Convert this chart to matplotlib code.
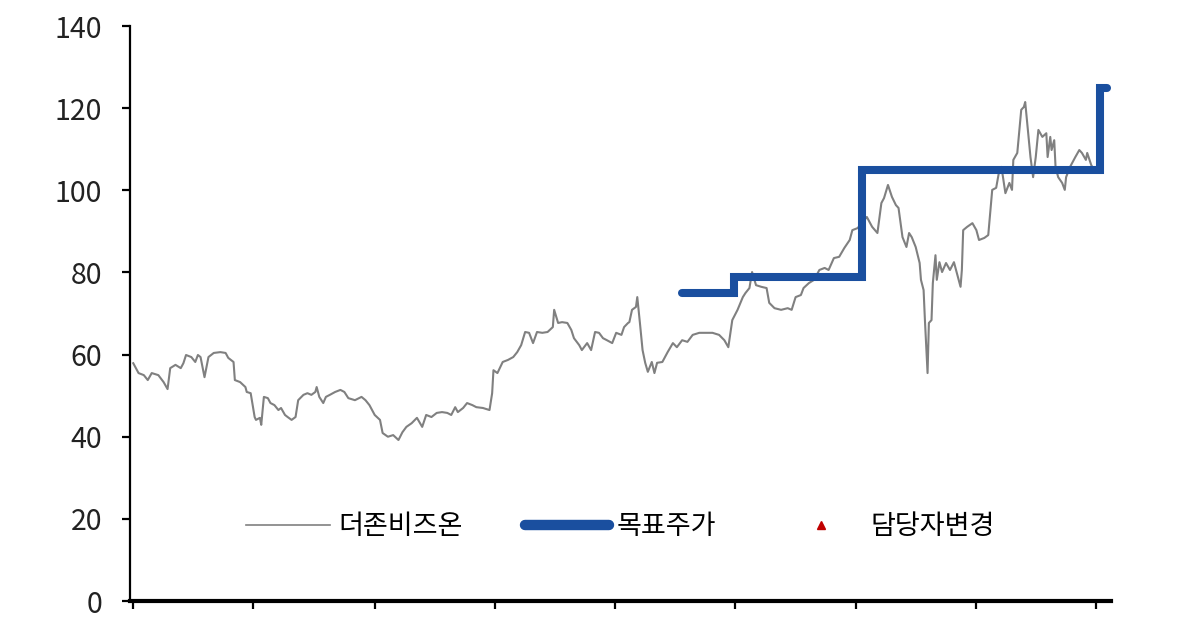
import matplotlib.pyplot as plt
from matplotlib.lines import Line2D

plt.rcParams['font.family'] = ['Noto Sans CJK KR', 'DejaVu Sans']

# 더존비즈온 주가 (days since start, 천원)
priceDays = [
    0, 4, 8, 11, 14, 19, 23, 26, 28, 32, 36, 38, 40, 44, 47, 49, 51, 54, 57, 61,
    66, 70, 72, 76, 77, 81, 85, 86, 89, 92, 93, 96, 97, 99, 102, 104, 107, 110, 112, 115,
    117, 120, 123, 125, 129, 132, 135, 138, 139, 141, 144, 146, 149, 153, 157, 160, 163, 168, 173, 176,
    179, 183, 187, 189, 193, 197, 201, 204, 207, 211, 215, 219, 222, 226, 230, 234, 238, 241, 244, 246,
    250, 253, 257, 260, 265, 270, 272, 273, 276, 280, 284, 288, 291, 294, 297, 300, 303, 306, 310, 314,
    318, 319, 322, 325, 329, 332, 334, 338, 340, 344, 347, 350, 353, 356, 359, 363, 366, 370, 372, 375,
    376, 378, 381, 382, 384, 386, 388, 390, 393, 395, 397, 401, 405, 409, 412, 416, 420, 424, 429, 434,
    439, 444, 448, 451, 454, 458, 462, 464, 467, 469, 472, 476, 480, 482, 486, 491, 496, 499, 502, 506,
    508, 512, 516, 520, 524, 527, 531, 535, 539, 543, 545, 549, 556, 560, 564, 567, 569, 572, 575, 578,
    580, 583, 586, 588, 590, 593, 596, 597, 599, 600, 602, 603, 605, 606, 608, 609, 611, 613, 616, 619,
    622, 624, 627, 628, 629, 632, 636, 639, 641, 645, 648, 651, 654, 656, 658, 661, 664, 666, 667, 670,
    673, 675, 676, 678, 680, 682, 684, 686, 689, 692, 693, 695, 696, 698, 699, 701, 704, 706, 707, 710,
    714, 717, 719, 722, 723, 726, 728,
]
priceValues = [
    57.9, 55.5, 55.0, 53.8, 55.5, 55.0, 53.3, 51.6, 56.7, 57.5, 56.7, 57.9, 59.9, 59.4, 58.2, 59.9, 59.4, 54.5, 59.4, 60.4,
    60.6, 60.4, 59.2, 58.2, 53.8, 53.3, 52.1, 50.9, 50.6, 44.8, 44.1, 44.6, 42.9, 49.7, 49.4, 48.2, 47.7, 46.5, 47.0, 45.3,
    44.8, 44.1, 44.8, 48.9, 50.2, 50.6, 50.2, 50.9, 52.1, 49.7, 48.2, 49.7, 50.2, 50.9, 51.4, 50.9, 49.4, 48.9, 49.7, 48.9,
    47.7, 45.3, 44.1, 40.9, 40.0, 40.4, 39.2, 41.1, 42.4, 43.3, 44.6, 42.4, 45.3, 44.8, 45.8, 46.0, 45.8, 45.3, 47.2, 46.0,
    47.0, 48.2, 47.7, 47.2, 47.0, 46.5, 50.6, 56.2, 55.5, 58.2, 58.7, 59.4, 60.6, 62.3, 65.5, 65.3, 62.8, 65.5, 65.3, 65.5,
    66.7, 70.9, 67.7, 67.9, 67.7, 66.0, 64.0, 62.3, 61.1, 62.8, 61.1, 65.5, 65.3, 64.0, 63.5, 62.8, 65.3, 64.8, 66.7, 67.7,
    67.9, 70.9, 71.6, 74.0, 67.7, 61.1, 58.0, 55.8, 58.2, 55.5, 58.0, 58.2, 60.6, 62.8, 61.8, 63.5, 63.1, 64.8, 65.3, 65.3,
    65.3, 64.8, 63.5, 61.8, 68.4, 70.9, 74.0, 75.0, 76.2, 80.1, 76.9, 76.5, 76.2, 72.6, 71.3, 70.9, 71.3, 70.9, 74.0, 74.5,
    76.2, 77.4, 78.2, 80.6, 81.1, 80.6, 83.5, 83.8, 86.0, 87.9, 90.3, 90.8, 93.5, 91.1, 89.6, 96.9, 98.1, 101.3, 98.4, 96.4,
    95.7, 88.6, 86.2, 89.6, 88.6, 86.2, 82.3, 78.2, 75.7, 68.4, 55.5, 67.7, 68.4, 77.4, 84.2, 78.2, 82.5, 80.1, 82.3, 80.6,
    82.5, 80.1, 76.5, 80.6, 90.3, 91.1, 92.0, 90.3, 87.9, 88.4, 89.1, 100.1, 100.6, 104.2, 105.7, 99.3, 101.8, 100.1, 107.4, 109.1,
    119.6, 120.3, 121.5, 114.7, 108.1, 103.2, 108.1, 114.7, 113.0, 113.9, 108.1, 113.0, 109.8, 112.2, 105.7, 103.2, 101.8, 100.1, 103.2, 105.7,
    108.1, 109.8, 109.1, 107.4, 109.1, 106.2, 105.0,
]

# 목표주가
targetDays = [416, 455, 552, 733, 738]
targetValues = [75, 79, 105, 125, 125]

xTicks = [0, 91, 183, 274, 365, 456, 548, 639, 730]
yTicks = [0, 20, 40, 60, 80, 100, 120, 140]

grayColor = '#808080'
blueColor = '#1a4f9f'
redColor = '#c00000'


def main():
    fig = plt.figure(figsize=(12, 6.3), dpi=100)
    ax = fig.add_axes([0.1083, 0.046, 0.8175, 0.9127])

    ax.plot(priceDays, priceValues, color=grayColor, linewidth=1.5)
    ax.plot(targetDays, targetValues, color=blueColor, linewidth=5.8,
            drawstyle='steps-post', solid_capstyle='round', solid_joinstyle='miter')

    ax.set_xlim(-2.5, 741)
    ax.set_ylim(0, 140)
    ax.set_xticks(xTicks)
    ax.set_xticklabels([''] * len(xTicks))
    ax.set_yticks(yTicks)
    ax.tick_params(axis='y', labelsize=20.5, labelcolor='#222222', length=6, width=1.6, pad=14)
    ax.tick_params(axis='x', length=6, width=1.6)

    ax.spines['top'].set_visible(False)
    ax.spines['right'].set_visible(False)
    ax.spines['left'].set_linewidth(1.6)
    ax.spines['bottom'].set_linewidth(3)

    handles = [
        Line2D([], [], color=grayColor, linewidth=1.2),
        Line2D([], [], color=blueColor, linewidth=7.5, solid_capstyle='round'),
        Line2D([], [], color=redColor, linestyle='none', marker='^', markersize=6),
    ]
    labels = ['더존비즈온', '목표주가', '담당자변경']
    ax.legend(handles, labels, loc='center', bbox_to_anchor=(0.5, 0.129), ncol=3,
              frameon=False, fontsize=19.5, handlelength=3.1, handletextpad=0.3,
              columnspacing=2.3)

    fig.savefig('out.png', dpi=100)


if __name__ == "__main__":
    main()
